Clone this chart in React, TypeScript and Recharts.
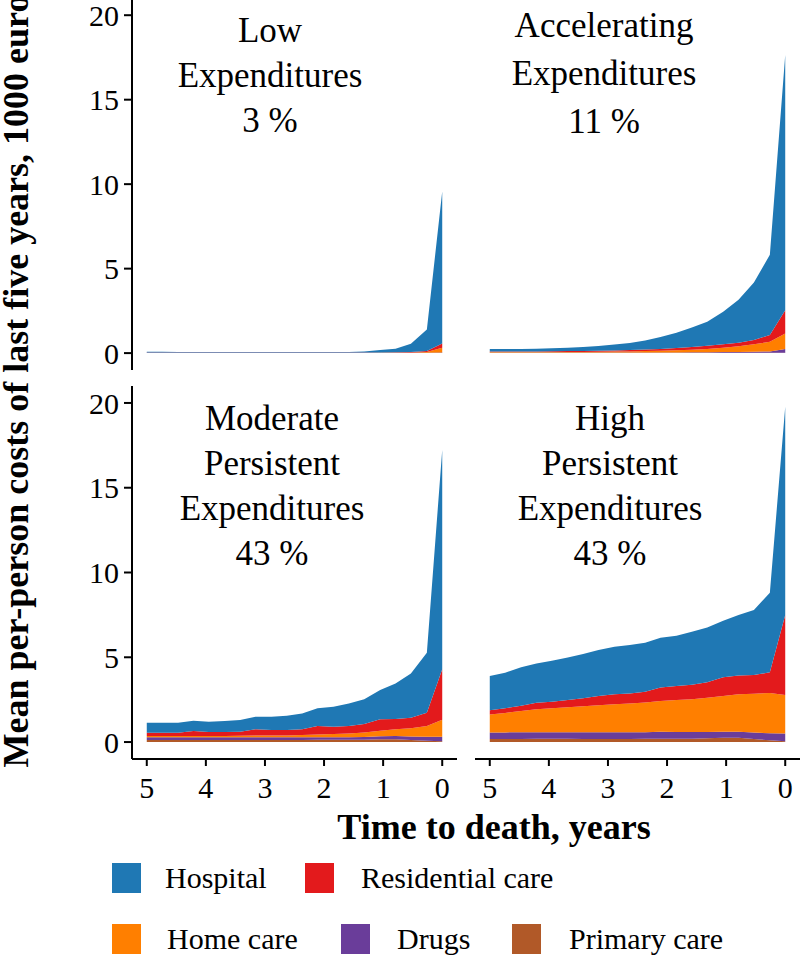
import React from "react";
import { AreaChart, Area, XAxis, YAxis } from "recharts";

// ---------- data ----------
const yearsToDeath = [5.0, 4.74, 4.47, 4.21, 3.95, 3.68, 3.42, 3.16, 2.89, 2.63, 2.37, 2.11, 1.84, 1.58, 1.32, 1.05, 0.79, 0.53, 0.26, 0.0];
const xTicks = [5, 4, 3, 2, 1, 0];
const yTicks = [0, 5, 10, 15, 20];

const seriesKeys = ["primary", "drugs", "home", "residential", "hospital"];
const seriesLabels = ["Primary care", "Drugs", "Home care", "Residential care", "Hospital"];
const seriesColors = ["#B15928", "#6A3D9A", "#FF7F00", "#E31A1C", "#1F78B4"];

// Low Expenditures 3 %
const lowHospital = [0.05, 0.05, 0.04, 0.04, 0.04, 0.04, 0.03, 0.04, 0.04, 0.03, 0.03, 0.03, 0.04, 0.04, 0.07, 0.14, 0.21, 0.5, 1.27, 9.0];
const lowResidential = [0.01, 0.01, 0.01, 0.01, 0.01, 0.01, 0.01, 0.01, 0.01, 0.01, 0.01, 0.01, 0.01, 0.01, 0.01, 0.01, 0.02, 0.02, 0.06, 0.25];
const lowHome = [0, 0, 0, 0, 0, 0, 0, 0, 0, 0, 0, 0, 0, 0, 0, 0.01, 0.01, 0.02, 0.04, 0.29];
const lowDrugs = [0.01, 0.01, 0.01, 0.01, 0.01, 0.01, 0.01, 0.01, 0.01, 0.01, 0.01, 0.01, 0.01, 0.01, 0.01, 0.01, 0.01, 0.01, 0.01, 0.02];
const lowPrimary = [0.01, 0.01, 0.01, 0.01, 0.01, 0.01, 0.01, 0.01, 0.01, 0.01, 0.01, 0.01, 0.01, 0.01, 0.01, 0.01, 0.01, 0.01, 0.01, 0.01];

// Accelerating Expenditures 11 %
const accHospital = [0.14, 0.14, 0.14, 0.16, 0.17, 0.19, 0.23, 0.28, 0.35, 0.42, 0.53, 0.7, 0.9, 1.16, 1.43, 1.93, 2.54, 3.4, 4.75, 15.11];
const accResidential = [0.04, 0.04, 0.04, 0.04, 0.05, 0.05, 0.06, 0.06, 0.07, 0.08, 0.09, 0.11, 0.13, 0.16, 0.18, 0.21, 0.22, 0.26, 0.4, 1.38];
const accHome = [0.02, 0.02, 0.02, 0.02, 0.02, 0.03, 0.03, 0.04, 0.05, 0.06, 0.08, 0.1, 0.13, 0.15, 0.2, 0.25, 0.33, 0.44, 0.57, 0.92];
const accDrugs = [0.02, 0.02, 0.02, 0.02, 0.02, 0.02, 0.02, 0.02, 0.02, 0.02, 0.02, 0.02, 0.02, 0.03, 0.03, 0.04, 0.05, 0.06, 0.08, 0.22];
const accPrimary = [0.02, 0.02, 0.02, 0.02, 0.02, 0.02, 0.02, 0.02, 0.02, 0.02, 0.02, 0.02, 0.02, 0.02, 0.02, 0.02, 0.02, 0.02, 0.02, 0.02];

// Moderate Persistent Expenditures 43 %
const modHospital = [0.59, 0.59, 0.59, 0.61, 0.61, 0.65, 0.69, 0.74, 0.78, 0.84, 0.94, 1.05, 1.18, 1.34, 1.46, 1.73, 2.1, 2.61, 3.54, 12.94];
const modResidential = [0.2, 0.2, 0.2, 0.29, 0.23, 0.23, 0.24, 0.37, 0.33, 0.32, 0.34, 0.49, 0.43, 0.43, 0.49, 0.67, 0.61, 0.63, 0.79, 2.97];
const modHome = [0.07, 0.07, 0.07, 0.08, 0.08, 0.08, 0.09, 0.1, 0.1, 0.11, 0.13, 0.16, 0.18, 0.22, 0.27, 0.33, 0.4, 0.49, 0.63, 1.01];
const modDrugs = [0.16, 0.16, 0.16, 0.16, 0.16, 0.16, 0.16, 0.16, 0.16, 0.16, 0.16, 0.16, 0.16, 0.16, 0.16, 0.18, 0.19, 0.2, 0.23, 0.27];
const modPrimary = [0.12, 0.12, 0.12, 0.12, 0.12, 0.12, 0.12, 0.12, 0.12, 0.12, 0.12, 0.13, 0.13, 0.13, 0.14, 0.16, 0.16, 0.12, 0.08, 0.04];

// High Persistent Expenditures 43 %
const highHospital = [2.02, 2.1, 2.27, 2.32, 2.42, 2.5, 2.61, 2.71, 2.8, 2.85, 2.89, 2.93, 2.97, 3.13, 3.23, 3.34, 3.56, 3.84, 4.7, 12.29];
const highResidential = [0.25, 0.27, 0.31, 0.39, 0.39, 0.43, 0.47, 0.55, 0.59, 0.6, 0.64, 0.8, 0.82, 0.85, 0.9, 1.1, 1.11, 1.1, 1.21, 4.72];
const highHome = [1.05, 1.15, 1.25, 1.35, 1.41, 1.47, 1.53, 1.59, 1.65, 1.69, 1.75, 1.82, 1.89, 1.94, 2.03, 2.11, 2.21, 2.29, 2.38, 2.27];
const highDrugs = [0.39, 0.39, 0.4, 0.39, 0.39, 0.39, 0.4, 0.4, 0.4, 0.4, 0.39, 0.4, 0.39, 0.39, 0.37, 0.35, 0.35, 0.38, 0.42, 0.45];
const highPrimary = [0.18, 0.18, 0.18, 0.19, 0.19, 0.19, 0.18, 0.18, 0.18, 0.18, 0.19, 0.2, 0.2, 0.2, 0.22, 0.26, 0.26, 0.18, 0.1, 0.05];

const buildRows = (hospital: number[], residential: number[], home: number[], drugs: number[], primary: number[]) =>
  yearsToDeath.map((t, i) => ({
    t,
    hospital: hospital[i],
    residential: residential[i],
    home: home[i],
    drugs: drugs[i],
    primary: primary[i],
  }));

const lowRows = buildRows(lowHospital, lowResidential, lowHome, lowDrugs, lowPrimary);
const accRows = buildRows(accHospital, accResidential, accHome, accDrugs, accPrimary);
const modRows = buildRows(modHospital, modResidential, modHome, modDrugs, modPrimary);
const highRows = buildRows(highHospital, highResidential, highHome, highDrugs, highPrimary);

// ---------- styling ----------
const FONT = "'Liberation Serif', 'Times New Roman', 'DejaVu Serif', serif";
const AXIS = { stroke: "#000", strokeWidth: 2 };

type PanelProps = {
  rows: any[];
  left: number;
  top: number;
  plotH: number;
  yDomain: [number, number];
  showY: boolean;
  showX: boolean;
};

const PLOT_W = 325;
const Y_AXIS_W = 132;
const X_AXIS_H = 60;

function Panel({ rows, left, top, plotH, yDomain, showY, showX }: PanelProps) {
  const width = PLOT_W + (showY ? Y_AXIS_W : 0);
  const height = plotH + (showX ? X_AXIS_H : 0);
  return (
    <div style={{ position: "absolute", left, top, width, height }}>
      <AreaChart width={width} height={height} data={rows} margin={{ top: 0, right: 0, bottom: 0, left: 0 }}>
        <XAxis
          dataKey="t"
          type="number"
          domain={[-0.25, 5.25]}
          reversed
          ticks={xTicks}
          interval={0}
          hide={!showX}
          height={X_AXIS_H}
          axisLine={AXIS}
          tickLine={AXIS}
          tickSize={7}
          tickMargin={11}
          tick={{ fill: "#000", fontSize: 30, fontFamily: FONT }}
          allowDataOverflow
        />
        <YAxis
          type="number"
          domain={yDomain}
          ticks={yTicks}
          interval={0}
          hide={!showY}
          width={Y_AXIS_W}
          axisLine={AXIS}
          tickLine={AXIS}
          tickSize={8}
          tickMargin={5}
          tick={{ fill: "#000", fontSize: 30, fontFamily: FONT }}
          allowDataOverflow
        />
        {seriesKeys.map((k, i) => (
          <Area
            key={k}
            dataKey={k}
            name={seriesLabels[i]}
            stackId="1"
            type="linear"
            stroke="none"
            fill={seriesColors[i]}
            fillOpacity={1}
            dot={false}
            activeDot={false}
            isAnimationActive={false}
          />
        ))}
      </AreaChart>
    </div>
  );
}

const titleLines = [
  { x: 270, ys: [42, 87, 132], lines: ["Low", "Expenditures", "3 %"] },
  { x: 604, ys: [37, 85, 133], lines: ["Accelerating", "Expenditures", "11 %"] },
  { x: 272, ys: [430, 475, 520, 565], lines: ["Moderate", "Persistent", "Expenditures", "43 %"] },
  { x: 610, ys: [430, 475, 520, 565], lines: ["High", "Persistent", "Expenditures", "43 %"] },
];

const legendItems = [
  { idx: 4, sx: 112, tx: 165, y: 863 },
  { idx: 3, sx: 305, tx: 361, y: 863 },
  { idx: 2, sx: 112, tx: 167, y: 924 },
  { idx: 1, sx: 341, tx: 397, y: 924 },
  { idx: 0, sx: 512, tx: 569, y: 924 },
];

const TOP_DOMAIN: [number, number] = [-1, 20.9];
const BOTTOM_DOMAIN: [number, number] = [-1, 21];

export default function App() {
  return (
    <div style={{ position: "absolute", left: 0, top: 0, width: 800, height: 955, background: "#fff", overflow: "hidden", fontFamily: FONT }}>
      <Panel rows={lowRows} left={0} top={0} plotH={370} yDomain={TOP_DOMAIN} showY showX={false} />
      <Panel rows={accRows} left={475} top={0} plotH={370} yDomain={TOP_DOMAIN} showY={false} showX={false} />
      <Panel rows={modRows} left={0} top={386} plotH={373} yDomain={BOTTOM_DOMAIN} showY showX />
      <Panel rows={highRows} left={475} top={386} plotH={373} yDomain={BOTTOM_DOMAIN} showY={false} showX />
      <svg width={800} height={955} style={{ position: "absolute", left: 0, top: 0, pointerEvents: "none" }}>
        {titleLines.map((p, pi) =>
          p.lines.map((l, li) => (
            <text key={pi + "-" + li} x={p.x} y={p.ys[li]} textAnchor="middle" fontSize={35} fontFamily={FONT} fill="#000">
              {l}
            </text>
          ))
        )}
        <text
          transform="translate(28,381) rotate(-90)"
          textAnchor="middle"
          fontSize={36}
          fontWeight="bold"
          fontFamily={FONT}
          fill="#000"
        >
          Mean per-person costs of last five years, 1000 euro
        </text>
        <text x={494} y={839} textAnchor="middle" fontSize={36} fontWeight="bold" fontFamily={FONT} fill="#000">
          Time to death, years
        </text>
        {legendItems.map((it) => (
          <g key={it.idx}>
            <rect x={it.sx} y={it.y} width={29} height={30} fill={seriesColors[it.idx]} />
            <text x={it.tx} y={it.y + 25} fontSize={30} fontFamily={FONT} fill="#000">
              {seriesLabels[it.idx]}
            </text>
          </g>
        ))}
      </svg>
    </div>
  );
}
